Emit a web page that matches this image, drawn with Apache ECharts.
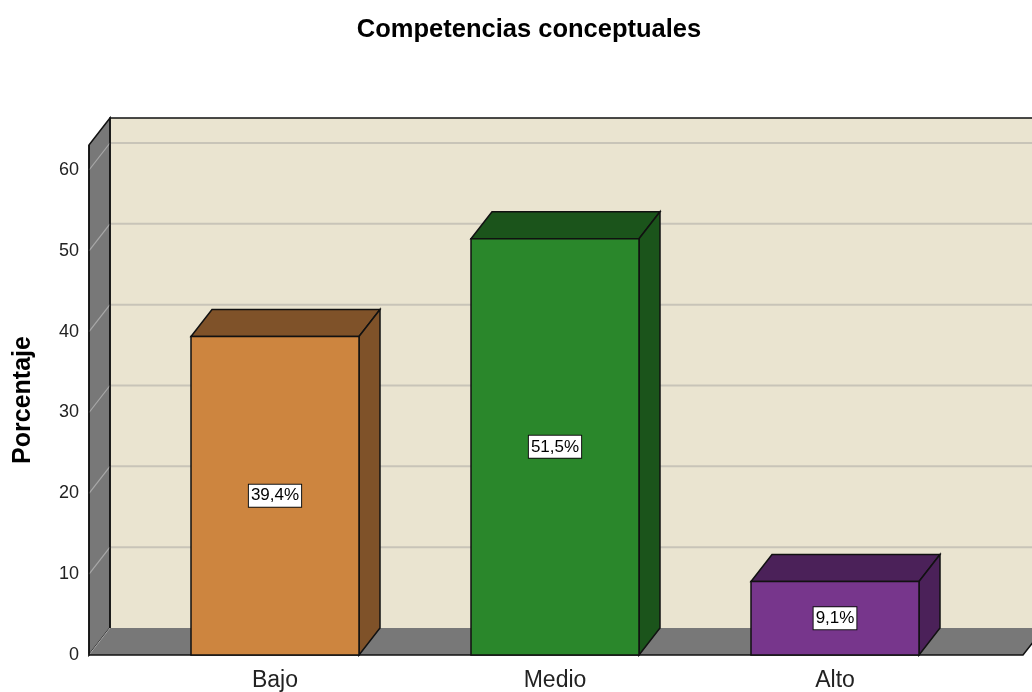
<!DOCTYPE html>
<html>
<head>
<meta charset="utf-8">
<script src="https://cdn.jsdelivr.net/npm/echarts@6/dist/echarts.min.js"></script>
<style>
html,body{margin:0;padding:0;background:#fff;}
#chart{width:1032px;height:692px;}
</style>
</head>
<body>
<div id="chart"></div>
<script>
// ---- data ----
const categories = ['Bajo', 'Medio', 'Alto'];
const percentValues = [39.4, 51.5, 9.1];
const valueLabels = ['39,4%', '51,5%', '9,1%'];
const yTicks = [0, 10, 20, 30, 40, 50, 60];
const wallTop = 63.1;

// ---- style ----
const frontColors = ['#cd853f', '#2a872b', '#77368c'];
const darkColors = ['#7f5229', '#1b541b', '#4b2159'];
const DX = 21, DY = -27;          // depth offset in px
const LEFT_EXT = 46, RIGHT_EXT = 48;
const FONT = 'Liberation Sans, Arial, sans-serif';

const chart = echarts.init(document.getElementById('chart'), null, {renderer: 'canvas'});

function wallsRender(params, api) {
  const cs = params.coordSys;
  const y0 = api.coord([0, 0])[1];
  const y60 = api.coord([0, 60])[1];
  const ppu = (y0 - y60) / 60;
  const yv = v => y0 - v * ppu;
  const xl = cs.x - LEFT_EXT;
  const xr = cs.x + cs.width + RIGHT_EXT;
  const yT = yv(wallTop);
  const children = [];
  // back wall
  children.push({type: 'rect', shape: {x: xl + DX, y: yT + DY, width: 2000, height: y0 - yT},
    style: {fill: '#eae4d0', stroke: null}});
  // gridlines on back wall and side wall
  yTicks.forEach(v => {
    if (v === 0) return;
    const y = yv(v);
    children.push({type: 'line', shape: {x1: xl + DX, y1: y + DY, x2: 2000, y2: y + DY},
      style: {stroke: '#c8c4b8', lineWidth: 2}});
  });
  // side wall
  children.push({type: 'polygon', shape: {points: [[xl, yT], [xl + DX, yT + DY], [xl + DX, y0 + DY], [xl, y0]]},
    style: {fill: '#787878', stroke: '#111', lineWidth: 1.5}});
  yTicks.forEach(v => {
    if (v === 0) return;
    const y = yv(v);
    children.push({type: 'line', shape: {x1: xl, y1: y, x2: xl + DX, y2: y + DY},
      style: {stroke: '#a8a8a8', lineWidth: 1.2}});
  });
  // floor
  children.push({type: 'polygon', shape: {points: [[xl, y0], [xl + DX, y0 + DY], [xr + DX, y0 + DY], [xr, y0]]},
    style: {fill: '#787878', stroke: null}});
  children.push({type: 'line', shape: {x1: xl, y1: y0, x2: xl + DX, y2: y0 + DY},
    style: {stroke: '#a8a8a8', lineWidth: 1}});
  // back wall border lines
  children.push({type: 'polyline', shape: {points: [[xl + DX, y0 + DY], [xl + DX, yT + DY], [2000, yT + DY]]},
    style: {stroke: '#111', lineWidth: 1.5, fill: null}});
  // front axis lines
  children.push({type: 'polyline', shape: {points: [[xl, yT], [xl, y0], [xr, y0], [xr + DX, y0 + DY]]},
    style: {stroke: '#111', lineWidth: 1.5, fill: null}});
  return {type: 'group', children: children};
}

function barRender(params, api) {
  const idx = api.value(0);
  const v = api.value(1);
  const c = api.coord([idx, v]);
  const base = api.coord([idx, 0]);
  const bw = api.size([1, 0])[0] * 0.6;
  const xL = c[0] - bw / 2, xR = c[0] + bw / 2;
  const yTopF = c[1], yB = base[1];
  const i = params.dataIndex;
  const stroke = {stroke: '#111', lineWidth: 1.5};
  return {type: 'group', children: [
    {type: 'polygon', shape: {points: [[xL, yTopF], [xL + DX, yTopF + DY], [xR + DX, yTopF + DY], [xR, yTopF]]},
      style: Object.assign({fill: darkColors[i]}, stroke)},
    {type: 'polygon', shape: {points: [[xR, yTopF], [xR + DX, yTopF + DY], [xR + DX, yB + DY], [xR, yB]]},
      style: Object.assign({fill: darkColors[i]}, stroke)},
    {type: 'rect', shape: {x: xL, y: yTopF, width: bw, height: yB - yTopF},
      style: Object.assign({fill: frontColors[i]}, stroke)},
    {type: 'text', x: c[0], y: (yTopF + yB) / 2,
      style: {text: valueLabels[i], fill: '#000', fontSize: 17, fontFamily: FONT,
        align: 'center', verticalAlign: 'middle', backgroundColor: '#fff', borderColor: '#111', borderWidth: 1,
        padding: [3, 2, 2, 2]}}
  ]};
}

const option = {
  animation: false,
  backgroundColor: '#fff',
  title: {
    text: 'Competencias conceptuales',
    left: 524, top: 12, textAlign: 'center',
    textStyle: {fontSize: 25.5, fontWeight: 'bold', color: '#000', fontFamily: FONT}
  },
  grid: {left: 135, right: 57, top: 170, bottom: 37, containLabel: false, outerBoundsMode: 'none'},
  xAxis: {
    type: 'category', data: categories,
    axisLine: {show: false}, axisTick: {show: false}, splitLine: {show: false},
    axisLabel: {fontSize: 23, color: '#222', margin: 14, fontFamily: FONT}
  },
  yAxis: {
    type: 'value', min: 0, max: 60, interval: 10, offset: 46,
    axisLine: {show: false}, axisTick: {show: false}, splitLine: {show: false},
    axisLabel: {fontSize: 18, color: '#222', margin: 10, fontFamily: FONT,
      formatter: v => String(v)},
    name: 'Porcentaje', nameLocation: 'middle', nameGap: 53, nameRotate: 90,
    nameTextStyle: {fontSize: 25, fontWeight: 'bold', color: '#000', fontFamily: FONT, padding: [0, 0, 0, 25]}
  },
  series: [
    {type: 'custom', renderItem: wallsRender, data: [[0, 0]], silent: true, z: 1, clip: false},
    {type: 'custom', renderItem: barRender, data: categories.map((c, i) => [i, percentValues[i]]), z: 2, clip: false}
  ]
};
chart.setOption(option);
</script>
</body>
</html>
